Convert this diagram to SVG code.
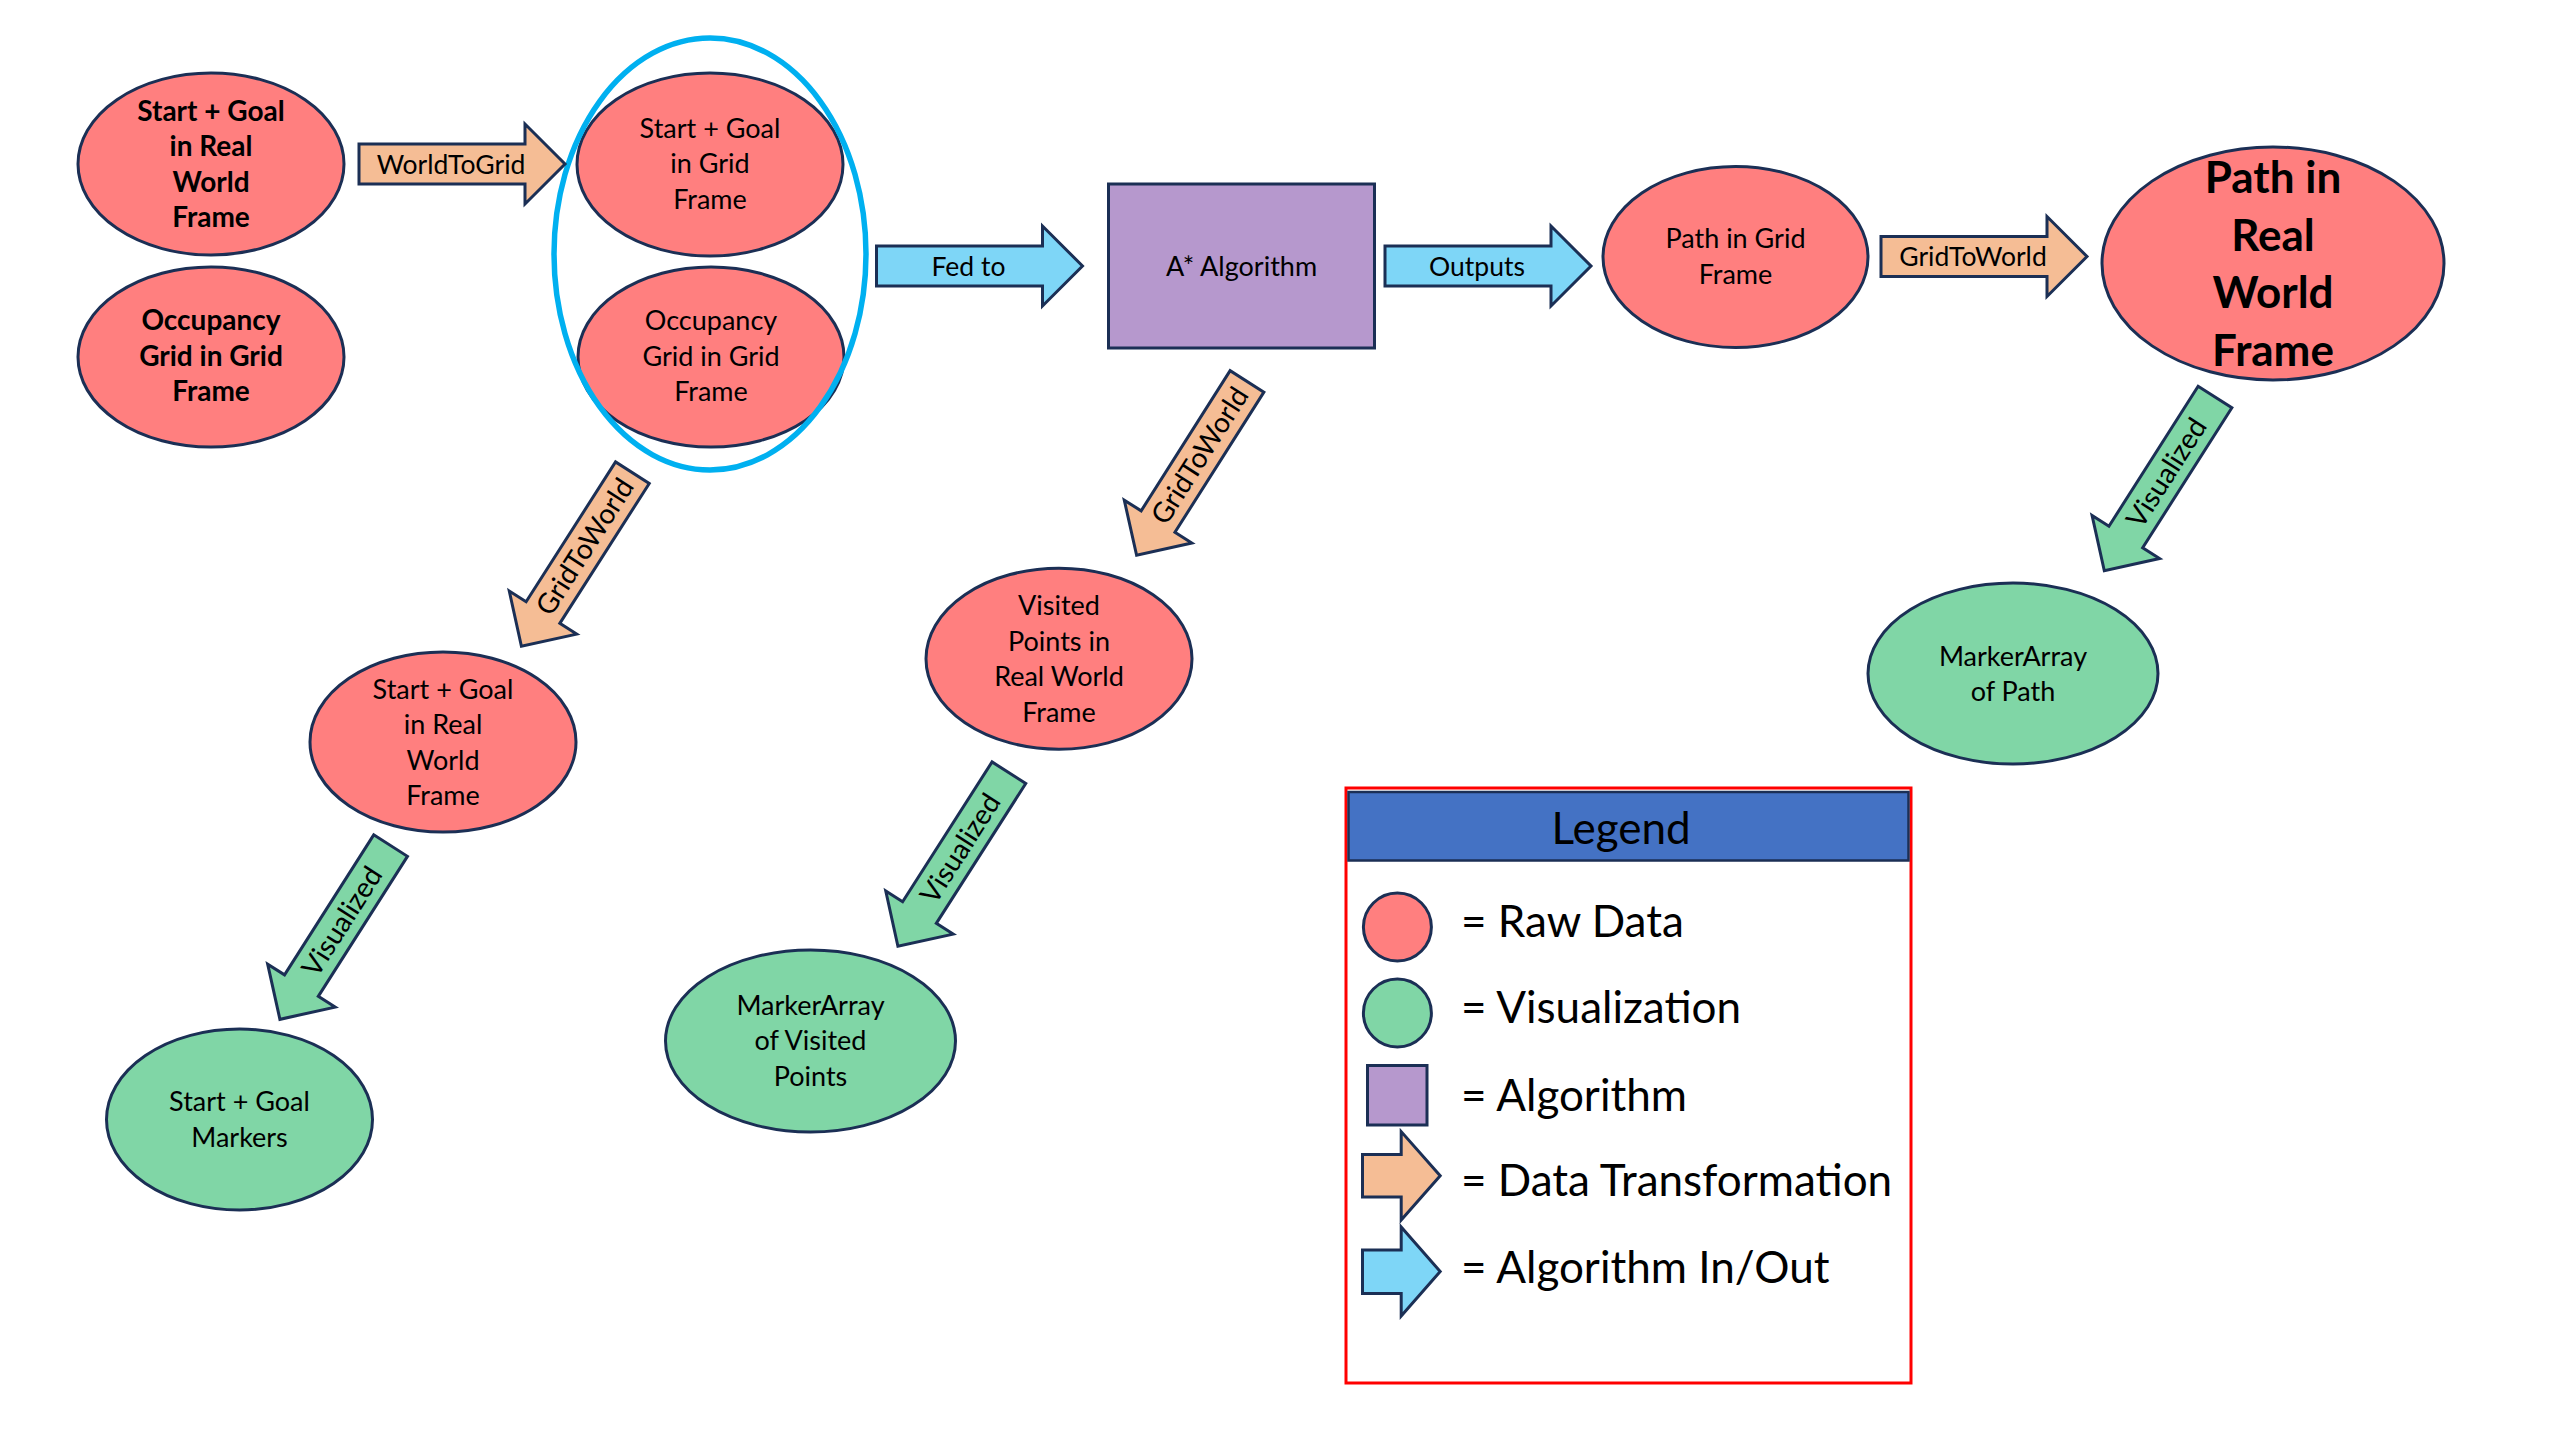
<svg xmlns="http://www.w3.org/2000/svg" width="2560" height="1440" viewBox="0 0 2560 1440">
<style>
.raw{fill:#FF7F7F;stroke:#1B2F55;stroke-width:3}
.vis{fill:#80D6A6;stroke:#1B2F55;stroke-width:3}
.alg{fill:#B698CD;stroke:#1B2F55;stroke-width:3}
.xf{fill:#F5BD95;stroke:#1B2F55;stroke-width:3;stroke-linejoin:miter}
.io{fill:#7ED6F7;stroke:#1B2F55;stroke-width:3;stroke-linejoin:miter}
text{font-family:Lato,"Liberation Sans",sans-serif;fill:#000}
.t{font-size:27px;text-anchor:middle}
.tb{font-size:28px;font-weight:bold;text-anchor:middle}
.big{font-size:44px;font-weight:bold;text-anchor:middle}
.lbl{font-size:26.5px;text-anchor:middle}
.dl{font-size:28px;text-anchor:middle}
.leg{font-size:44px}
</style>
<defs>
<path id="arr" d="M0,-20 H166 V-40 L206,0 L166,40 V20 H0 Z"/>
</defs>
<rect width="2560" height="1440" fill="#fff"/>

<g id="n-start-goal-world">
<ellipse class="raw" cx="211" cy="164" rx="133" ry="91"/>
<text class="tb" x="211" y="120.5">Start + Goal</text>
<text class="tb" x="211" y="156">in Real</text>
<text class="tb" x="211" y="191.5">World</text>
<text class="tb" x="211" y="227">Frame</text>
</g>
<g id="n-occupancy-world">
<ellipse class="raw" cx="211" cy="357" rx="133" ry="90"/>
<text class="tb" x="211" y="330">Occupancy</text>
<text class="tb" x="211" y="365.5">Grid in Grid</text>
<text class="tb" x="211" y="401">Frame</text>
</g>
<g id="n-start-goal-grid">
<ellipse class="raw" cx="710" cy="164.5" rx="133" ry="91.5"/>
<text class="t" x="710" y="137.5">Start + Goal</text>
<text class="t" x="710" y="173">in Grid</text>
<text class="t" x="710" y="208.5">Frame</text>
</g>
<g id="n-occupancy-grid">
<ellipse class="raw" cx="711" cy="357" rx="133" ry="90"/>
<text class="t" x="711" y="330">Occupancy</text>
<text class="t" x="711" y="365.5">Grid in Grid</text>
<text class="t" x="711" y="401">Frame</text>
</g>
<g id="grid-inputs-group">
<ellipse cx="710" cy="254" rx="156" ry="216" fill="none" stroke="#00B0F0" stroke-width="5.5"/>
</g>
<g id="n-astar">
<rect class="alg" x="1108.5" y="184" width="266" height="164"/>
<text class="t" x="1241.5" y="275.5">A* Algorithm</text>
</g>
<g id="n-path-grid">
<ellipse class="raw" cx="1735.5" cy="257" rx="132.5" ry="90.5"/>
<text class="t" x="1735.5" y="248">Path in Grid</text>
<text class="t" x="1735.5" y="283.5">Frame</text>
</g>
<g id="n-path-world">
<ellipse class="raw" cx="2273" cy="263.5" rx="171" ry="116.5"/>
<text class="big" x="2273" y="193">Path in</text>
<text class="big" x="2273" y="250.5">Real</text>
<text class="big" x="2273" y="308">World</text>
<text class="big" x="2273" y="365.5">Frame</text>
</g>
<g id="n-start-goal-world-2">
<ellipse class="raw" cx="443" cy="742" rx="133" ry="90"/>
<text class="t" x="443" y="698.5">Start + Goal</text>
<text class="t" x="443" y="734">in Real</text>
<text class="t" x="443" y="769.5">World</text>
<text class="t" x="443" y="805">Frame</text>
</g>
<g id="n-start-goal-markers">
<ellipse class="vis" cx="239.5" cy="1119.5" rx="133" ry="90.5"/>
<text class="t" x="239.5" y="1111">Start + Goal</text>
<text class="t" x="239.5" y="1146.5">Markers</text>
</g>
<g id="n-visited-world">
<ellipse class="raw" cx="1059" cy="658.7" rx="133" ry="90.5"/>
<text class="t" x="1059" y="615">Visited</text>
<text class="t" x="1059" y="650.5">Points in</text>
<text class="t" x="1059" y="686">Real World</text>
<text class="t" x="1059" y="721.5">Frame</text>
</g>
<g id="n-visited-markers">
<ellipse class="vis" cx="810.5" cy="1041" rx="145" ry="91"/>
<text class="t" x="810.5" y="1014.5">MarkerArray</text>
<text class="t" x="810.5" y="1050">of Visited</text>
<text class="t" x="810.5" y="1085.5">Points</text>
</g>
<g id="n-path-markers">
<ellipse class="vis" cx="2013" cy="673.5" rx="145" ry="90.5"/>
<text class="t" x="2013" y="665.5">MarkerArray</text>
<text class="t" x="2013" y="701">of Path</text>
</g>

<g id="connectors">
<g transform="translate(359,164)"><use href="#arr" class="xf"/><text class="lbl" x="92" y="9.5">WorldToGrid</text></g>
<g transform="translate(876.5,266)"><use href="#arr" class="io"/><text class="lbl" x="92" y="9.5">Fed to</text></g>
<g transform="translate(1385,266)"><use href="#arr" class="io"/><text class="lbl" x="92" y="9.5">Outputs</text></g>
<g transform="translate(1881,256.5)"><use href="#arr" class="xf"/><text class="lbl" x="92" y="9.5">GridToWorld</text></g>
<g transform="translate(632.4,472.7) rotate(122.6)"><use href="#arr" class="xf"/><text class="dl" transform="translate(88,0) rotate(180)" y="9.5">GridToWorld</text></g>
<g transform="translate(1247,381.4) rotate(122.4)"><use href="#arr" class="xf"/><text class="dl" transform="translate(88,0) rotate(180)" y="9.5">GridToWorld</text></g>
<g transform="translate(390.6,845.6) rotate(122.5)"><use href="#arr" class="vis"/><text class="dl" transform="translate(90,0) rotate(180)" y="9.5">Visualized</text></g>
<g transform="translate(1008.9,772.7) rotate(122.6)"><use href="#arr" class="vis"/><text class="dl" transform="translate(90,0) rotate(180)" y="9.5">Visualized</text></g>
<g transform="translate(2215,397) rotate(122.5)"><use href="#arr" class="vis"/><text class="dl" transform="translate(90,0) rotate(180)" y="9.5">Visualized</text></g>
</g>

<g id="legend">
<rect x="1346" y="788" width="565" height="595" fill="#fff" stroke="#FF0000" stroke-width="3"/>
<rect x="1348.5" y="792" width="560" height="68.5" fill="#4472C4" stroke="#1B2F55" stroke-width="2.5"/>
<text class="leg" x="1621" y="844" text-anchor="middle">Legend</text>
<ellipse class="raw" cx="1397.4" cy="927" rx="34" ry="34"/>
<text class="leg" x="1461" y="937">= Raw Data</text>
<ellipse class="vis" cx="1397.4" cy="1013" rx="34" ry="34"/>
<text class="leg" x="1461" y="1023">= Visualization</text>
<rect class="alg" x="1367.5" y="1065.5" width="59.5" height="59.5"/>
<text class="leg" x="1461" y="1111">= Algorithm</text>
<path class="xf" d="M1362.5,1154.5 H1401.2 V1131.6 L1440.2,1175.8 L1401.2,1220 V1197 H1362.5 Z"/>
<text class="leg" x="1461" y="1196">= Data Transformation</text>
<path class="io" d="M1362.5,1250 H1401.2 V1227 L1440.2,1271.5 L1401.2,1316 V1293.5 H1362.5 Z"/>
<text class="leg" x="1461" y="1283">= Algorithm In/Out</text>
</g>
</svg>
